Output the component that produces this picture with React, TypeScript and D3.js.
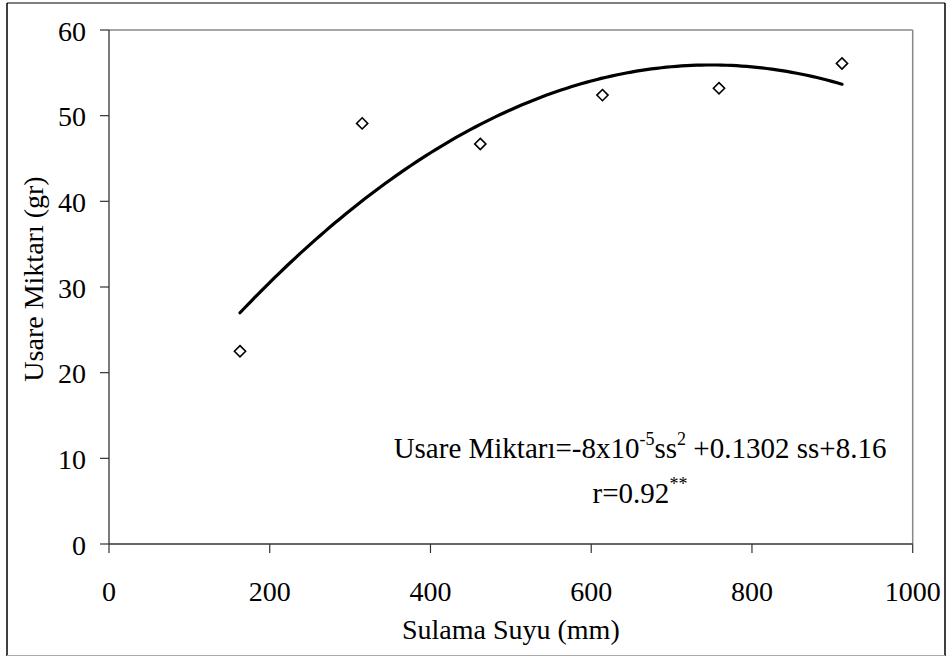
import React from "react";
import * as d3 from "d3";

// Irrigation water (mm) and exudate yield (g) per treatment
const irrigation = [163, 315, 462, 614, 759, 912];
const exudate = [22.5, 49.1, 46.7, 52.4, 53.2, 56.1];

const xTicks = [0, 200, 400, 600, 800, 1000];
const yTicks = [0, 10, 20, 30, 40, 50, 60];

const xTitle = "Sulama Suyu (mm)";
const yTitle = "Usare Miktarı (gr)";

const W = 949;
const H = 657;
const FONT = "'Liberation Serif', 'Times New Roman', serif";

// Least-squares second-order polynomial through the observations
function quadraticFit(xs: number[], ys: number[]) {
  const n = xs.length;
  const mx = d3.mean(xs) as number;
  const s = 100;
  const us = xs.map((x) => (x - mx) / s);
  let S1 = 0, S2 = 0, S3 = 0, S4 = 0, T0 = 0, T1 = 0, T2 = 0;
  us.forEach((u, i) => {
    const y = ys[i];
    S1 += u; S2 += u * u; S3 += u ** 3; S4 += u ** 4;
    T0 += y; T1 += u * y; T2 += u * u * y;
  });
  // Solve the 3x3 normal equations by Cramer's rule
  const M = [
    [n, S1, S2],
    [S1, S2, S3],
    [S2, S3, S4],
  ];
  const det = (m: number[][]) =>
    m[0][0] * (m[1][1] * m[2][2] - m[1][2] * m[2][1]) -
    m[0][1] * (m[1][0] * m[2][2] - m[1][2] * m[2][0]) +
    m[0][2] * (m[1][0] * m[2][1] - m[1][1] * m[2][0]);
  const T = [T0, T1, T2];
  const D = det(M);
  const coef = [0, 1, 2].map((k) => {
    const Mk = M.map((row, r) => row.map((v, c) => (c === k ? T[r] : v)));
    return det(Mk) / D;
  });
  return (x: number) => {
    const u = (x - mx) / s;
    return coef[0] + coef[1] * u + coef[2] * u * u;
  };
}

export default function App() {
  const x = d3.scaleLinear().domain([0, 1000]).range([109, 912.7]);
  const y = d3.scaleLinear().domain([0, 60]).range([544, 30]);

  const fit = quadraticFit(irrigation, exudate);
  const [x0, x1] = d3.extent(irrigation) as [number, number];
  const curvePts = d3.range(0, 121).map((i) => {
    const v = x0 + ((x1 - x0) * i) / 120;
    return [v, fit(v)] as [number, number];
  });
  const line = d3
    .line<[number, number]>()
    .x((d) => x(d[0]))
    .y((d) => y(d[1]));

  const diamond = (cx: number, cy: number, r: number) =>
    `M${cx},${cy - r}L${cx + r},${cy}L${cx},${cy + r}L${cx - r},${cy}Z`;

  const fs = 28;
  const eqFs = 29;
  const sup = 18;

  return (
    <svg
      width={W}
      height={H}
      style={{ position: "absolute", left: 0, top: 0, background: "#fff", fontFamily: FONT }}
    >
      {/* chart frame */}
      <rect x={0} y={0} width={W} height={H} fill="#fff" />
      <line x1={7} y1={3} x2={7} y2={656} stroke="#000" strokeWidth={1.5} />
      <line x1={7} y1={3} x2={945} y2={3} stroke="#000" strokeWidth={1.2} />
      <line x1={945} y1={3} x2={945} y2={656} stroke="#000" strokeWidth={1.5} />
      <line x1={7} y1={655.5} x2={945} y2={655.5} stroke="#aaa" strokeWidth={1.2} />

      {/* plot area border */}
      <line x1={x(0)} y1={y(60)} x2={x(1000)} y2={y(60)} stroke="#888" strokeWidth={1.5} />
      <line x1={x(1000)} y1={y(60)} x2={x(1000)} y2={y(0)} stroke="#888" strokeWidth={1.5} />

      {/* y axis */}
      <line x1={x(0)} y1={y(60)} x2={x(0)} y2={y(0)} stroke="#333" strokeWidth={1.3} />
      {yTicks.map((t) => (
        <g key={`y${t}`}>
          <line x1={x(0) - 9} x2={x(0)} y1={y(t)} y2={y(t)} stroke="#333" strokeWidth={1.2} />
          <text x={86} y={y(t) + 10.5} textAnchor="end" fontSize={fs} fill="#000">
            {t}
          </text>
        </g>
      ))}

      {/* x axis */}
      <line x1={x(0)} y1={y(0)} x2={x(1000)} y2={y(0)} stroke="#333" strokeWidth={1.3} />
      {xTicks.map((t) => (
        <g key={`x${t}`}>
          <line x1={x(t)} x2={x(t)} y1={y(0)} y2={y(0) + 9} stroke="#333" strokeWidth={1.2} />
          <text x={x(t)} y={601} textAnchor="middle" fontSize={fs} fill="#000">
            {t}
          </text>
        </g>
      ))}

      {/* axis titles */}
      <text x={(x(0) + x(1000)) / 2} y={639} textAnchor="middle" fontSize={fs} fill="#000">
        {xTitle}
      </text>
      <text
        transform={`translate(43,279) rotate(-90)`}
        textAnchor="middle"
        fontSize={fs}
        fill="#000"
      >
        {yTitle}
      </text>

      {/* fitted trend */}
      <path
        d={line(curvePts) ?? ""}
        fill="none"
        stroke="#000"
        strokeWidth={3.2}
        strokeLinejoin="round"
        strokeLinecap="round"
      />

      {/* observations */}
      {irrigation.map((v, i) => (
        <path
          key={`p${i}`}
          d={diamond(x(v), y(exudate[i]), 5.6)}
          fill="#fff"
          stroke="#000"
          strokeWidth={1.6}
        />
      ))}

      {/* regression equation */}
      <text x={640} y={458} textAnchor="middle" fontSize={eqFs} fill="#000">
        Usare Miktarı=-8x10
        <tspan dy={-13} fontSize={sup}>-5</tspan>
        <tspan dy={13}>ss</tspan>
        <tspan dy={-13} fontSize={sup}>2</tspan>
        <tspan dy={13}> +0.1302 ss+8.16</tspan>
      </text>
      <text x={640} y={503} textAnchor="middle" fontSize={eqFs} fill="#000">
        r=0.92
        <tspan dy={-13} fontSize={sup}>**</tspan>
      </text>
    </svg>
  );
}
